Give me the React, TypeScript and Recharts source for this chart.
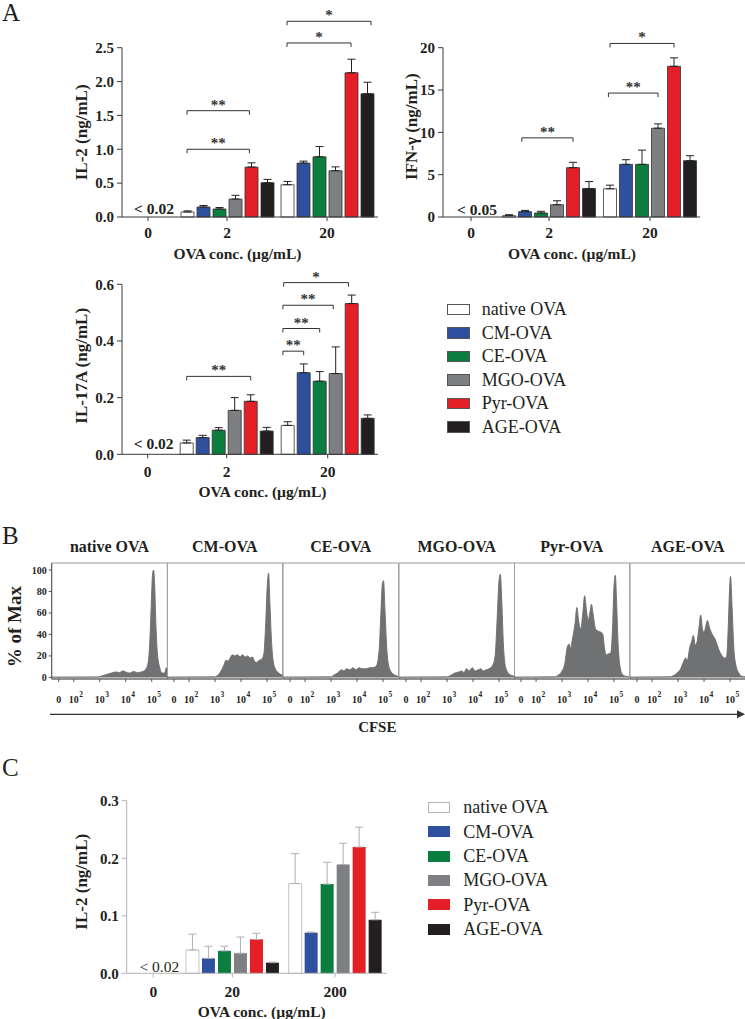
import React from 'react';
import { BarChart, Bar, XAxis, YAxis, ErrorBar, ReferenceLine, Legend, AreaChart, Area, ReferenceArea } from 'recharts';

const SERIF = "'Liberation Serif', 'Times New Roman', serif";
const INK = '#231f20';

const SERIES = ['native OVA', 'CM-OVA', 'CE-OVA', 'MGO-OVA', 'Pyr-OVA', 'AGE-OVA'];
const COLORS = ['#ffffff', '#2f4f9f', '#0b7d3e', '#7e7f82', '#e41f27', '#231f20'];

const CONC_A = ['0', '2', '20'];
const CONC_C = ['0', '20', '200'];

// A - IL-2 (ng/mL), one value per series; *_ERR is the upper error bar length
const IL2_AT_2 = [0.074, 0.147, 0.118, 0.265, 0.737, 0.506];
const IL2_AT_2_ERR = [0.016, 0.023, 0.022, 0.055, 0.063, 0.049];
const IL2_AT_20 = [0.476, 0.796, 0.889, 0.683, 2.13, 1.82];
const IL2_AT_20_ERR = [0.049, 0.029, 0.151, 0.057, 0.2, 0.17];

// A - IFN-γ (ng/mL)
const IFN_AT_2 = [0.16, 0.63, 0.47, 1.45, 5.83, 3.37];
const IFN_AT_2_ERR = [0.11, 0.15, 0.2, 0.47, 0.63, 0.82];
const IFN_AT_20 = [3.33, 6.22, 6.22, 10.49, 17.8, 6.65];
const IFN_AT_20_ERR = [0.43, 0.55, 1.68, 0.51, 1.0, 0.59];

// A - IL-17A (ng/mL)
const IL17_AT_2 = [0.04, 0.059, 0.085, 0.155, 0.187, 0.082];
const IL17_AT_2_ERR = [0.01, 0.008, 0.009, 0.045, 0.023, 0.013];
const IL17_AT_20 = [0.102, 0.288, 0.258, 0.285, 0.532, 0.127];
const IL17_AT_20_ERR = [0.013, 0.031, 0.034, 0.094, 0.03, 0.012];

// C - IL-2 (ng/mL)
const IL2C_AT_20 = [0.0405, 0.026, 0.039, 0.035, 0.059, 0.0185];
const IL2C_AT_20_ERR = [0.0275, 0.021, 0.008, 0.028, 0.0105, 0.001];
const IL2C_AT_200 = [0.156, 0.0707, 0.155, 0.189, 0.2195, 0.093];
const IL2C_AT_200_ERR = [0.052, 0.001, 0.038, 0.037, 0.0345, 0.013];

// significance brackets: group index, bar slot from/to, height in data units
type Bracket = { group: number; from: number; to: number; y: number; mark: string };
const IL2_BRACKETS: Bracket[] = [
  { group: 1, from: 0, to: 3.9, y: 1.0, mark: '**' },
  { group: 1, from: 0, to: 3.9, y: 1.57, mark: '**' },
  { group: 2, from: 0, to: 4, y: 2.57, mark: '*' },
  { group: 2, from: 0, to: 5.25, y: 2.89, mark: '*' },
];
const IFN_BRACKETS: Bracket[] = [
  { group: 1, from: 0.8, to: 4, y: 9.35, mark: '**' },
  { group: 2, from: -0.1, to: 3, y: 14.64, mark: '**' },
  { group: 2, from: 0, to: 4, y: 20.5, mark: '*' },
];
const IL17_BRACKETS: Bracket[] = [
  { group: 1, from: 0, to: 4, y: 0.275, mark: '**' },
  { group: 2, from: -0.3, to: 1, y: 0.364, mark: '**' },
  { group: 2, from: -0.3, to: 2, y: 0.444, mark: '**' },
  { group: 2, from: -0.3, to: 2.85, y: 0.526, mark: '**' },
  { group: 2, from: -0.25, to: 3.8, y: 0.606, mark: '*' },
];

// B - CFSE histograms, [decade position, % of max]
const CFSE_DOMAIN = [1.15, 5.6];
const CFSE_TICKS = [1.42, 2, 3, 4, 5];
const CFSE_LABELS = ['0', '2', '3', '4', '5'];
const MAX_TICKS = [0, 20, 40, 60, 80, 100];
const HIST_TITLES = ['native OVA', 'CM-OVA', 'CE-OVA', 'MGO-OVA', 'Pyr-OVA', 'AGE-OVA'];

const HIST_NATIVE = [[1.15, 0.3], [2.9, 0.4], [3.1, 1.5], [3.3, 3], [3.45, 4], [3.6, 5], [3.75, 4.5], [3.9, 6], [4.0, 5], [4.15, 4], [4.3, 5.5], [4.45, 4.5], [4.6, 5], [4.75, 7], [4.85, 12], [4.92, 30], [4.98, 65], [5.03, 95], [5.07, 100], [5.11, 88], [5.16, 50], [5.22, 22], [5.3, 10], [5.4, 4], [5.5, 4], [5.56, 9], [5.6, 7]];
const HIST_CM = [[1.15, 0.3], [2.95, 0.5], [3.1, 2], [3.23, 6], [3.35, 12], [3.42, 16], [3.5, 15], [3.58, 18], [3.67, 21], [3.76, 20], [3.87, 21], [3.96, 19], [4.06, 21], [4.16, 19], [4.25, 20], [4.35, 18], [4.44, 19], [4.52, 15], [4.6, 14], [4.7, 16], [4.8, 17], [4.88, 22], [4.95, 50], [5.01, 85], [5.06, 97], [5.11, 70], [5.17, 35], [5.24, 15], [5.32, 8], [5.45, 4], [5.6, 2]];
const HIST_CE = [[1.15, 0.3], [3.0, 0.5], [3.1, 2], [3.25, 4], [3.4, 7], [3.5, 6], [3.6, 8], [3.72, 7], [3.85, 9], [3.95, 7], [4.08, 9], [4.2, 8], [4.35, 8], [4.5, 9], [4.62, 9], [4.75, 11], [4.85, 25], [4.92, 60], [4.98, 88], [5.02, 90], [5.08, 60], [5.15, 25], [5.25, 8], [5.4, 3], [5.6, 1]];
const HIST_MGO = [[1.15, 0.3], [3.0, 0.5], [3.15, 2], [3.3, 4], [3.45, 5], [3.58, 6], [3.65, 4], [3.74, 8], [3.85, 6], [3.97, 9], [4.08, 6], [4.2, 7], [4.3, 8], [4.4, 6], [4.5, 7], [4.62, 8], [4.75, 11], [4.85, 20], [4.93, 55], [5.0, 90], [5.05, 96], [5.1, 75], [5.17, 30], [5.25, 10], [5.4, 3], [5.6, 1]];
const HIST_PYR = [[1.15, 0.3], [2.7, 0.5], [2.85, 2], [3.0, 6], [3.1, 12], [3.2, 28], [3.27, 31], [3.33, 27], [3.4, 36], [3.5, 50], [3.57, 65], [3.64, 52], [3.72, 45], [3.8, 60], [3.87, 76], [3.94, 62], [4.0, 53], [4.07, 60], [4.13, 68], [4.2, 58], [4.29, 45], [4.4, 43], [4.5, 42], [4.57, 40], [4.63, 28], [4.7, 21], [4.8, 22], [4.88, 23], [4.95, 50], [5.0, 85], [5.05, 95], [5.1, 70], [5.15, 35], [5.22, 12], [5.32, 3], [5.45, 1], [5.6, 0.5]];
const HIST_AGE = [[1.15, 0.3], [2.65, 0.5], [2.85, 2], [3.0, 5], [3.1, 8], [3.2, 14], [3.29, 18], [3.36, 16], [3.45, 28], [3.52, 33], [3.59, 39], [3.66, 30], [3.72, 32], [3.8, 45], [3.87, 58], [3.94, 45], [4.0, 42], [4.07, 48], [4.13, 53], [4.2, 47], [4.32, 40], [4.42, 36], [4.51, 30], [4.6, 24], [4.7, 20], [4.8, 18], [4.87, 19], [4.93, 45], [4.98, 80], [5.02, 94], [5.08, 65], [5.14, 30], [5.22, 12], [5.34, 4], [5.45, 1], [5.6, 0.5]];
const HISTS = [HIST_NATIVE, HIST_CM, HIST_CE, HIST_MGO, HIST_PYR, HIST_AGE];

const Y_W = 60;
const AXIS_H = 30;
const BAR = 13;
const GAP = 3;

const makeRows = (cats: string[], at1: number[], err1: number[], at2: number[], err2: number[]) =>
  cats.map((conc, i) => {
    const row: Record<string, any> = { conc };
    const vals = i === 1 ? at1 : i === 2 ? at2 : null;
    const errs = i === 1 ? err1 : i === 2 ? err2 : null;
    SERIES.forEach((_, s) => {
      row[`v${s}`] = vals ? vals[s] : null;
      row[`e${s}`] = errs ? [0, errs[s]] : [0, 0];
    });
    return row;
  });

const CatTick = (props: any) => {
  const { x, y, payload, shift, dy, note, noteDy, noteBold, tickColor } = props;
  const isZero = payload.value === '0';
  const cx = x + (isZero ? shift : 0);
  return (
    <g>
      <line x1={cx} x2={cx} y1={y} y2={y + 4} stroke={tickColor} />
      <text x={cx} y={y + dy} textAnchor="middle" fontFamily={SERIF} fontWeight="bold" fontSize={15.5} fill={INK}>
        {payload.value}
      </text>
      {isZero && (
        <text x={cx + 6} y={y + noteDy} textAnchor="middle" fontFamily={SERIF} fontWeight={noteBold ? 'bold' : 'normal'} fontSize={15.5} fill={INK}>
          {note}
        </text>
      )}
    </g>
  );
};

const AxisTitle = (props: any) => {
  const { tx, ty, txt, rotate, size } = props;
  return (
    <text
      x={tx}
      y={ty}
      transform={rotate ? `rotate(-90 ${tx} ${ty})` : undefined}
      textAnchor="middle"
      dominantBaseline={rotate ? 'central' : 'auto'}
      fontFamily={SERIF}
      fontWeight="bold"
      fontSize={size}
      fill={INK}
    >
      {txt}
    </text>
  );
};

const bracketShape = (mark: string) => (p: any) => {
  const { x1, x2, y1 } = p;
  return (
    <g>
      <path d={`M${x1},${y1 + 4}V${y1}H${x2}V${y1 + 4}`} fill="none" stroke="#333" strokeWidth={1} />
      <text x={(x1 + x2) / 2} y={y1 - 1} textAnchor="middle" fontFamily={SERIF} fontWeight="bold" fontSize={15} fill="#333">
        {mark}
      </text>
    </g>
  );
};

const makeLegend = (boxW: number, boxH: number, rowH: number, gap: number, pale: boolean) => (props: any) => {
  const items = [...(props.payload || [])].sort((a, b) => SERIES.indexOf(a.value) - SERIES.indexOf(b.value));
  return (
    <div>
      {items.map((it) => {
        const i = SERIES.indexOf(it.value);
        const edge = pale ? (i === 0 ? '#b5b5b5' : COLORS[i]) : '#555';
        return (
          <div key={it.value} style={{ display: 'flex', alignItems: 'center', height: rowH }}>
            <div style={{ width: boxW, height: boxH, boxSizing: 'border-box', background: COLORS[i], border: `1px solid ${edge}` }} />
            <div style={{ marginLeft: gap, fontFamily: SERIF, fontSize: 18, color: INK, lineHeight: 1, whiteSpace: 'nowrap' }}>{it.value}</div>
          </div>
        );
      })}
    </div>
  );
};

type BarPanelProps = {
  left: number; top: number; width: number; height: number;
  plot: { left: number; right: number; top: number; bottom: number };
  center1: number; band: number; zeroShift: number;
  rows: any[]; yMax: number; yTicks: number[]; yFmt: (v: number) => string;
  yTitle: string; yTitleX: number; yTitleDy: number;
  xTitleX: number; xTitleDy: number; tickDy: number;
  note: string; noteDy: number; noteBold: boolean;
  brackets: Bracket[];
  pale?: boolean;
  legend?: { left: number; top: number; boxW: number; boxH: number; rowH: number; gap: number };
};

function BarPanel(p: BarPanelProps) {
  const { plot, band } = p;
  const rangeLeft = p.center1 - 1.5 * band;
  const pad = { left: rangeLeft - plot.left, right: plot.right - (rangeLeft + 3 * band) };
  // hidden numeric axis: 0..2 maps onto the three group centres
  const posPad = { left: rangeLeft + band / 2 - plot.left, right: plot.right - (rangeLeft + 2.5 * band) };
  const slotX = (g: number, slot: number) => g + ((slot - 2.5) * (BAR + GAP)) / band;
  const axisColor = p.pale ? '#b3b3b3' : '#3a3a3a';
  const barEdge = (s: number) => (p.pale ? (s === 0 ? '#b5b5b5' : 'none') : '#333');
  const errColor = p.pale ? '#b0b0b0' : '#222';

  return (
    <div style={{ position: 'absolute', left: p.left, top: p.top }}>
      <BarChart
        width={p.width}
        height={p.height}
        data={p.rows}
        barGap={GAP}
        margin={{ top: plot.top, right: p.width - plot.right, bottom: p.height - plot.bottom - AXIS_H, left: plot.left - Y_W }}
      >
        <XAxis
          dataKey="conc"
          padding={pad}
          height={AXIS_H}
          interval={0}
          axisLine={{ stroke: axisColor }}
          tickLine={false}
          tickSize={0}
          tickMargin={0}
          tick={<CatTick shift={p.zeroShift} dy={p.tickDy} note={p.note} noteDy={p.noteDy} noteBold={p.noteBold} tickColor={axisColor} />}
          label={<AxisTitle tx={p.xTitleX} ty={plot.bottom + p.xTitleDy} txt="OVA conc. (µg/mL)" size={15.5} />}
        />
        <XAxis xAxisId="pos" type="number" domain={[0, 2]} padding={posPad} hide allowDataOverflow />
        <YAxis
          width={Y_W}
          domain={[0, p.yMax]}
          ticks={p.yTicks}
          tickFormatter={p.yFmt}
          interval={0}
          axisLine={{ stroke: axisColor }}
          tickLine={{ stroke: axisColor }}
          tickSize={5}
          tickMargin={3}
          tick={{ fontFamily: SERIF, fontWeight: 'bold', fontSize: 15, fill: INK }}
          label={<AxisTitle tx={p.yTitleX} ty={(plot.top + plot.bottom) / 2 + p.yTitleDy} txt={p.yTitle} rotate size={17} />}
        />
        {SERIES.map((name, s) => (
          <Bar key={name} dataKey={`v${s}`} name={name} fill={COLORS[s]} stroke={barEdge(s)} strokeWidth={0.8} barSize={BAR} isAnimationActive={false}>
            <ErrorBar dataKey={`e${s}`} width={4} stroke={errColor} strokeWidth={1} direction="y" />
          </Bar>
        ))}
        {p.brackets.map((b, k) => (
          <ReferenceLine
            key={k}
            xAxisId="pos"
            ifOverflow="visible"
            segment={[{ x: slotX(b.group, b.from), y: b.y }, { x: slotX(b.group, b.to), y: b.y }]}
            shape={bracketShape(b.mark)}
          />
        ))}
        {p.legend && (
          <Legend
            layout="vertical"
            align="center"
            verticalAlign="middle"
            wrapperStyle={{ left: p.legend.left, top: p.legend.top, width: 200 }}
            content={makeLegend(p.legend.boxW, p.legend.boxH, p.legend.rowH, p.legend.gap, !!p.pale)}
          />
        )}
      </BarChart>
    </div>
  );
}

const DecadeTick = (props: any) => {
  const { x, y, payload } = props;
  const lab = CFSE_LABELS[CFSE_TICKS.indexOf(payload.value)];
  const common = { fontFamily: SERIF, fontWeight: 'bold' as const, fill: INK };
  if (lab === '0') {
    return <text x={x} y={y + 21} textAnchor="middle" fontSize={10} {...common}>0</text>;
  }
  return (
    <g>
      <text x={x} y={y + 21} textAnchor="middle" fontSize={10} {...common}>10</text>
      <text x={x + 5.5} y={y + 15} textAnchor="start" fontSize={7.5} {...common}>{lab}</text>
    </g>
  );
};

const B_TOP = 525;
const B_H = 184;
const PANEL_X0 = 51.7;
const PANEL_W = 115.6;
const MAX_DOMAIN = [-1.5, 106.5];

function HistPanel({ i }: { i: number }) {
  const first = i === 0;
  const x0 = PANEL_X0 + i * PANEL_W;
  const left = first ? 0 : x0;
  const width = (first ? x0 : 0) + PANEL_W + 1;
  const rows = HISTS[i].map(([d, v]) => ({ d, v }));
  return (
    <div style={{ position: 'absolute', left, top: B_TOP }}>
      <AreaChart width={width} height={B_H} data={rows} margin={{ top: 38, right: 1, bottom: 0, left: first ? x0 - 45 : 0 }}>
        <XAxis
          type="number"
          dataKey="d"
          domain={CFSE_DOMAIN}
          ticks={CFSE_TICKS}
          interval={0}
          allowDataOverflow
          height={30}
          axisLine={{ stroke: '#555' }}
          tickLine={{ stroke: '#555' }}
          tickSize={3}
          tickMargin={0}
          tick={<DecadeTick />}
        />
        <YAxis
          hide={!first}
          width={45}
          domain={MAX_DOMAIN}
          ticks={MAX_TICKS}
          interval={0}
          allowDataOverflow
          axisLine={{ stroke: '#555' }}
          tickLine={{ stroke: '#555' }}
          tickSize={3}
          tickMargin={2}
          tick={{ fontFamily: SERIF, fontWeight: 'bold', fontSize: 10, fill: INK }}
          label={<AxisTitle tx={15} ty={101.7} txt="% of Max" rotate size={19} />}
        />
        <ReferenceArea
          x1={CFSE_DOMAIN[0]}
          x2={CFSE_DOMAIN[1]}
          y1={MAX_DOMAIN[0]}
          y2={MAX_DOMAIN[1]}
          fill="none"
          stroke="#999"
          ifOverflow="visible"
          label={<AxisTitle tx={(first ? x0 : 0) + PANEL_W / 2} ty={27} txt={HIST_TITLES[i]} size={16} />}
        />
        <Area dataKey="v" type="monotone" fill="#707173" stroke="#707173" fillOpacity={1} isAnimationActive={false} />
      </AreaChart>
    </div>
  );
}

const fmt1 = (v: number) => v.toFixed(1);
const fmt0 = (v: number) => String(v);

export default function App() {
  return (
    <div style={{ position: 'absolute', left: 0, top: 0, width: 745, height: 1019, background: '#fff', overflow: 'hidden' }}>
      <svg width={745} height={1019} style={{ position: 'absolute', left: 0, top: 0 }}>
        <text x={2} y={21} fontFamily={SERIF} fontSize={25} fill={INK}>A</text>
        <text x={2} y={543.5} fontFamily={SERIF} fontSize={25} fill={INK}>B</text>
        <text x={2} y={776} fontFamily={SERIF} fontSize={25} fill={INK}>C</text>
        <line x1={50} y1={714.3} x2={738} y2={714.3} stroke="#333" strokeWidth={1.3} />
        <path d="M737,710.3 L745,714.3 L737,718.3 Z" fill="#333" />
        <text x={377.3} y={732} textAnchor="middle" fontFamily={SERIF} fontWeight="bold" fontSize={15} fill={INK}>CFSE</text>
      </svg>

      <BarPanel
        left={0} top={0} width={380} height={265}
        plot={{ left: 122, right: 378, top: 47.7, bottom: 217 }}
        center1={227} band={100} zeroShift={21}
        rows={makeRows(CONC_A, IL2_AT_2, IL2_AT_2_ERR, IL2_AT_20, IL2_AT_20_ERR)}
        yMax={2.5} yTicks={[0, 0.5, 1, 1.5, 2, 2.5]} yFmt={fmt1}
        yTitle="IL-2 (ng/mL)" yTitleX={82} yTitleDy={0}
        xTitleX={237.5} xTitleDy={42} tickDy={20.5}
        note="< 0.02" noteDy={-3.5} noteBold
        brackets={IL2_BRACKETS}
      />

      <BarPanel
        left={380} top={0} width={365} height={265}
        plot={{ left: 63, right: 320, top: 47.7, bottom: 217 }}
        center1={169} band={101} zeroShift={23}
        rows={makeRows(CONC_A, IFN_AT_2, IFN_AT_2_ERR, IFN_AT_20, IFN_AT_20_ERR)}
        yMax={20} yTicks={[0, 5, 10, 15, 20]} yFmt={fmt0}
        yTitle="IFN-γ (ng/mL)" yTitleX={31.7} yTitleDy={-5.7}
        xTitleX={192} xTitleDy={42} tickDy={20.5}
        note="< 0.05" noteDy={-2.5} noteBold
        brackets={IFN_BRACKETS}
      />

      <BarPanel
        left={0} top={250} width={745} height={260}
        plot={{ left: 122, right: 378, top: 34.3, bottom: 204.3 }}
        center1={226.7} band={101} zeroShift={22}
        rows={makeRows(CONC_A, IL17_AT_2, IL17_AT_2_ERR, IL17_AT_20, IL17_AT_20_ERR)}
        yMax={0.6} yTicks={[0, 0.2, 0.4, 0.6]} yFmt={fmt1}
        yTitle="IL-17A (ng/mL)" yTitleX={82} yTitleDy={-3.5}
        xTitleX={262.5} xTitleDy={43} tickDy={22.4}
        note="< 0.02" noteDy={-5} noteBold
        brackets={IL17_BRACKETS}
        legend={{ left: 446.7, top: 47.5, boxW: 23.3, boxH: 11.5, rowH: 23.5, gap: 11.7 }}
      />

      {HISTS.map((_, i) => (
        <HistPanel key={i} i={i} />
      ))}

      <BarPanel
        left={0} top={770} width={745} height={249}
        plot={{ left: 126.7, right: 386.7, top: 30.7, bottom: 203.3 }}
        center1={232.3} band={102.7} zeroShift={23.7}
        rows={makeRows(CONC_C, IL2C_AT_20, IL2C_AT_20_ERR, IL2C_AT_200, IL2C_AT_200_ERR)}
        yMax={0.3} yTicks={[0, 0.1, 0.2, 0.3]} yFmt={fmt1}
        yTitle="IL-2 (ng/mL)" yTitleX={81.7} yTitleDy={-5.3}
        xTitleX={261.7} xTitleDy={43.5} tickDy={23.4}
        note="< 0.02" noteDy={-1} noteBold={false}
        brackets={[]}
        pale
        legend={{ left: 428.3, top: 25.1, boxW: 21.7, boxH: 11, rowH: 24.4, gap: 13.3 }}
      />
    </div>
  );
}
